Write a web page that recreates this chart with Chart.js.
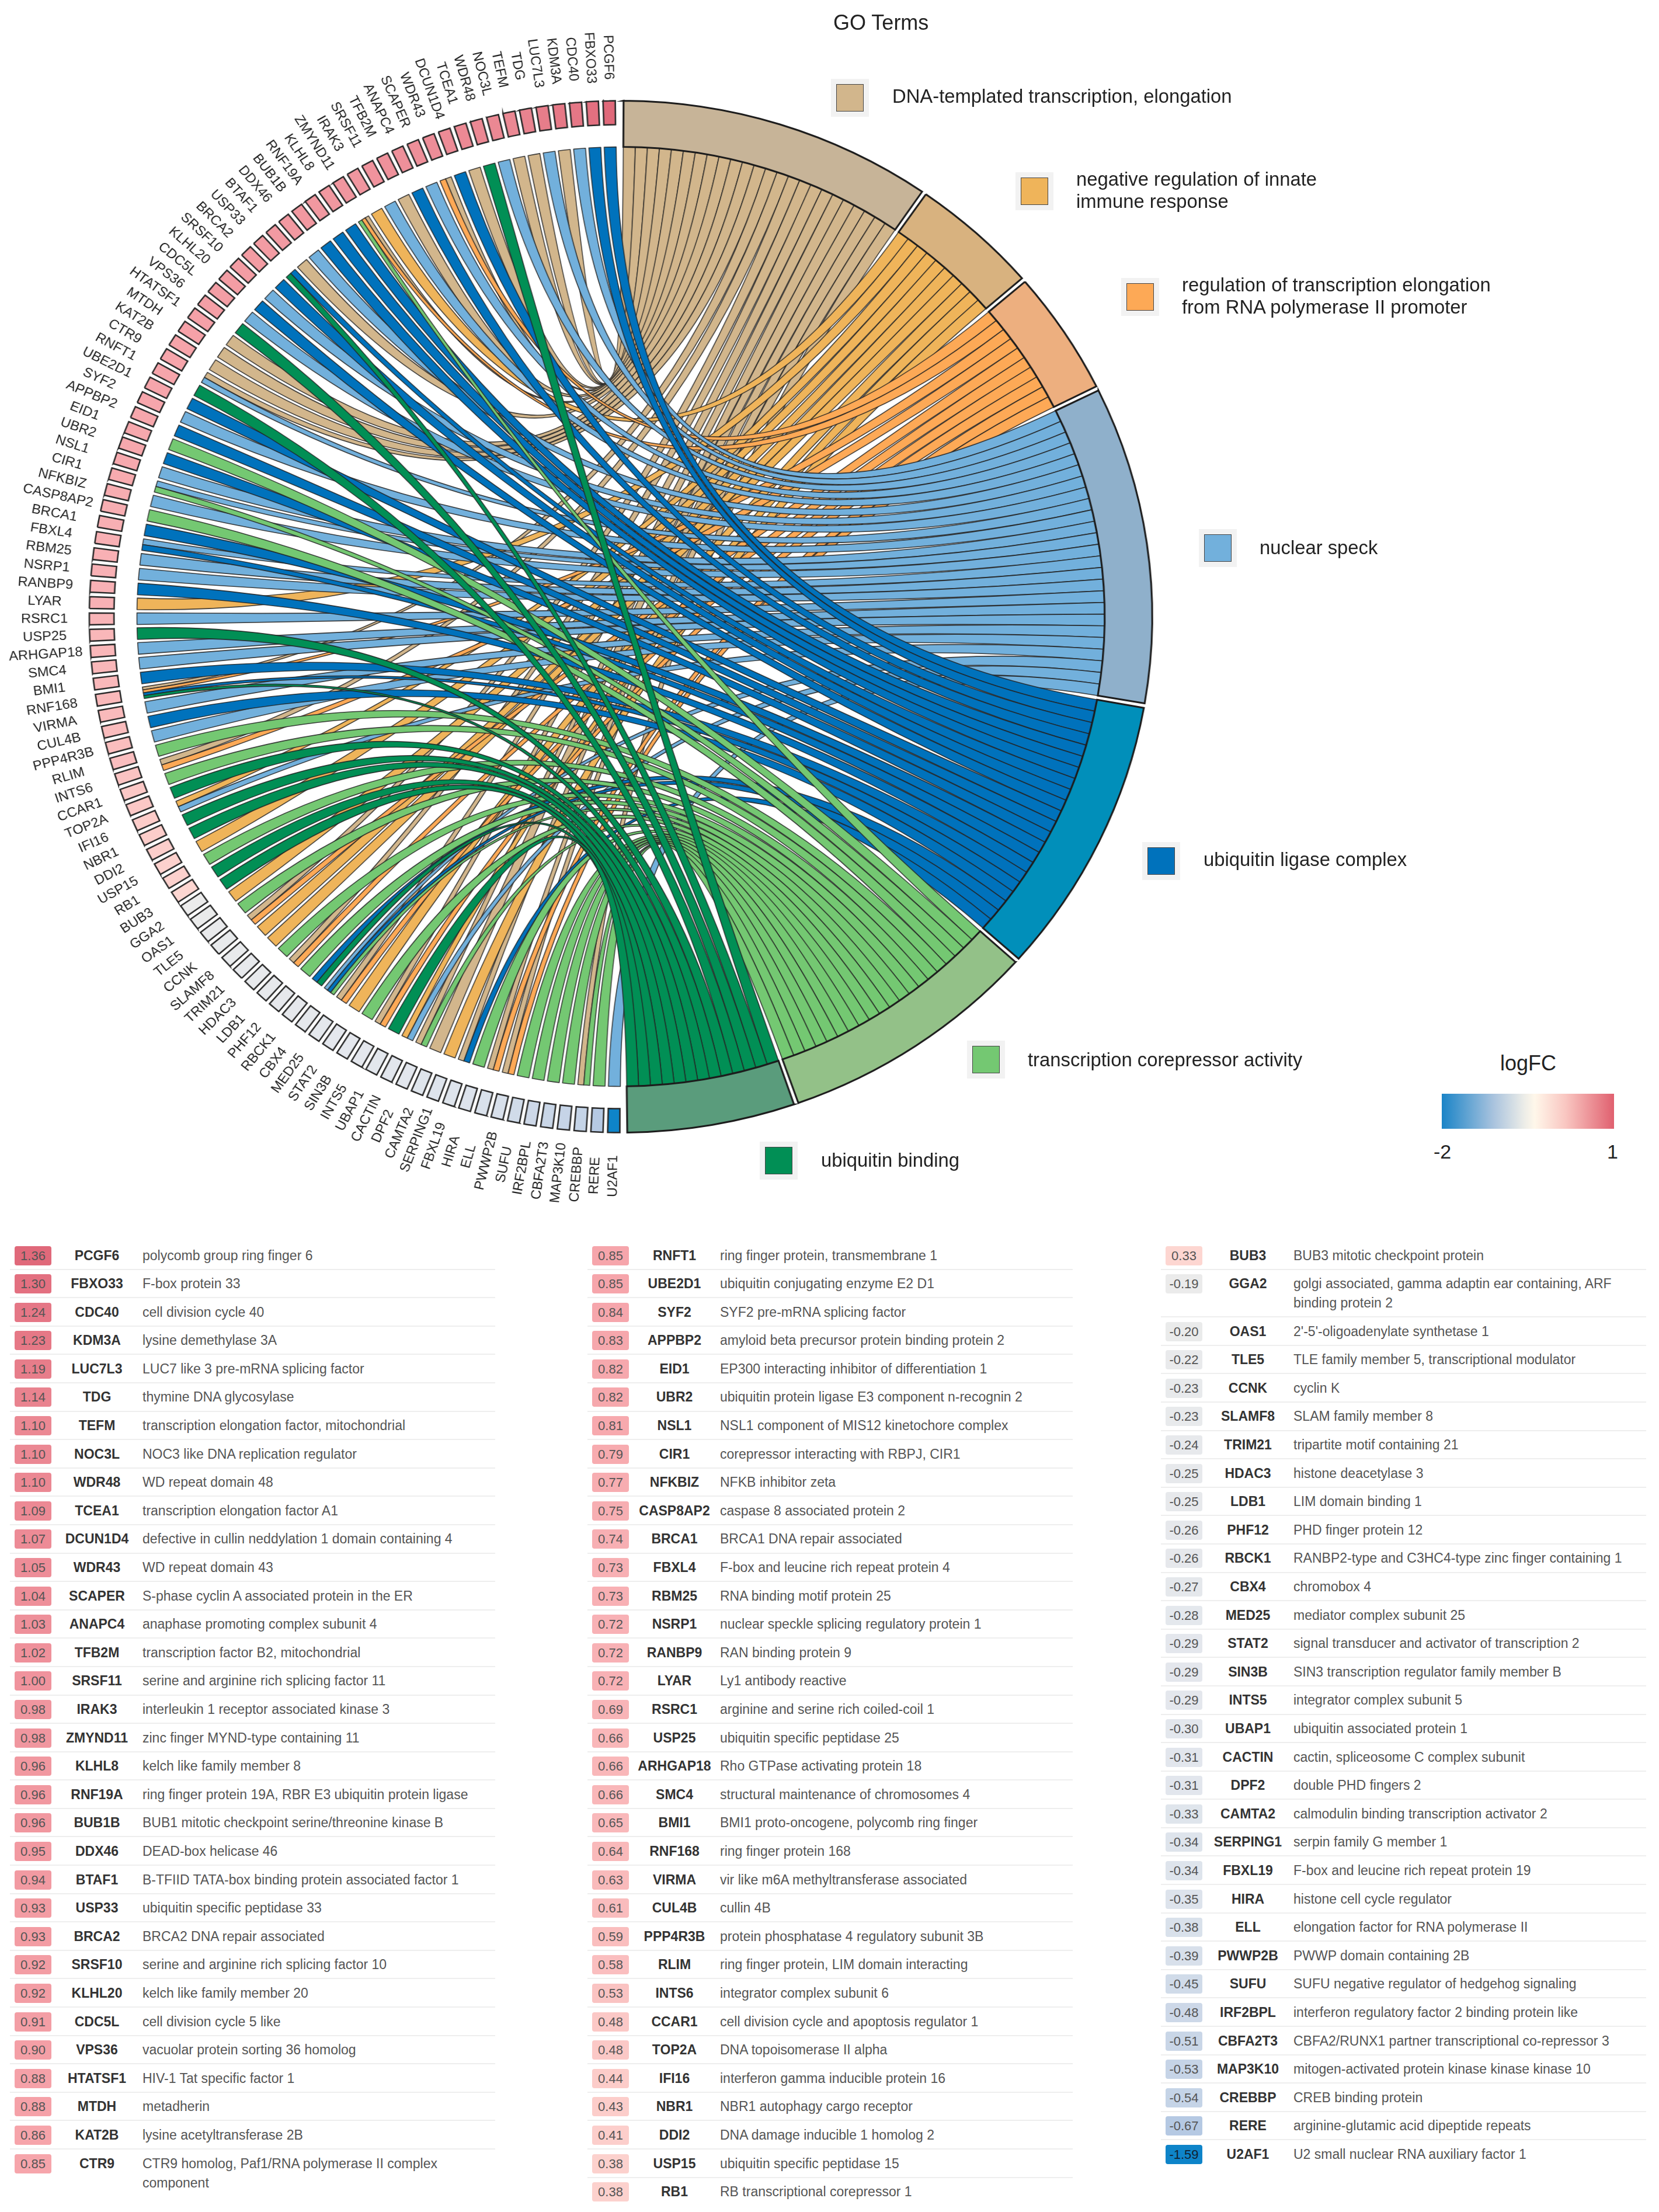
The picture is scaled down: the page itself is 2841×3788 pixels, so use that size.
<!DOCTYPE html>
<html>
<head>
<meta charset="utf-8">
<title>GO chord</title>
<script src="https://cdn.jsdelivr.net/npm/chart.js@4/dist/chart.umd.min.js"></script>
<style>
html, body { margin: 0; padding: 0; background: #fff; }
body { position: relative; width: 2841px; height: 3788px; overflow: hidden; font-family: "Liberation Sans", Arial, sans-serif; }
#chord { position: absolute; left: 0; top: 0; transform-origin: 0 0; transform: scaleX(1.0301); }
.abs { position: absolute; white-space: nowrap; }
.legText { font-size: 32.8px; line-height: 38px; color: #222; transform: translateY(-50%); }
.swatchBg { position: absolute; width: 65px; height: 65px; background: #f2f2f2; }
.swatch { position: absolute; left: 9px; top: 9px; width: 45px; height: 45px; border: 1.5px solid #444; }
.col { position: absolute; top: 2126px; width: 831px; }
.row { position: relative; display: flex; box-sizing: border-box; padding: 7.5px 0 6.1px 8px; border-bottom: 2px solid #eee; font-size: 23px; line-height: 33px; }
.row.last { border-bottom: 0; }
.badge { width: 63px; height: 33px; border-radius: 4px; text-align: center; color: #555; flex: none; font-size: 22px; }
.name { width: 156px; flex: none; text-align: center; font-weight: bold; color: #333; }
.desc { flex: 1; color: #555; white-space: pre-line; }
</style>
</head>
<body>
<canvas id="chord" width="2064" height="2112"></canvas>
<div id="overlay"></div>
<script>
const termNames = [
    'DNA-templated transcription, elongation',
    'negative regulation of innate\nimmune response',
    'regulation of transcription elongation\nfrom RNA polymerase II promoter',
    'nuclear speck',
    'ubiquitin ligase complex',
    'transcription corepressor activity',
    'ubiquitin binding'
];
const termKeys = ['D', 'N', 'R', 'S', 'L', 'C', 'B'];
const ribbonColors = ['#D2B68C', '#EFB45A', '#FDA956', '#72B0DC', '#0072BC', '#74C872', '#018F55'];
const ringColors = ['#C7B498', '#D8B27F', '#EDAF7F', '#8FB0CB', '#018FBA', '#93C188', '#5A9C7C'];

const genes = ['PCGF6', 'FBXO33', 'CDC40', 'KDM3A', 'LUC7L3', 'TDG', 'TEFM', 'NOC3L', 'WDR48', 'TCEA1', 'DCUN1D4', 'WDR43', 'SCAPER', 'ANAPC4', 'TFB2M', 'SRSF11', 'IRAK3', 'ZMYND11', 'KLHL8', 'RNF19A', 'BUB1B', 'DDX46', 'BTAF1', 'USP33', 'BRCA2', 'SRSF10', 'KLHL20', 'CDC5L', 'VPS36', 'HTATSF1', 'MTDH', 'KAT2B', 'CTR9',
    'RNFT1', 'UBE2D1', 'SYF2', 'APPBP2', 'EID1', 'UBR2', 'NSL1', 'CIR1', 'NFKBIZ', 'CASP8AP2', 'BRCA1', 'FBXL4', 'RBM25', 'NSRP1', 'RANBP9', 'LYAR', 'RSRC1', 'USP25', 'ARHGAP18', 'SMC4', 'BMI1', 'RNF168', 'VIRMA', 'CUL4B', 'PPP4R3B', 'RLIM', 'INTS6', 'CCAR1', 'TOP2A', 'IFI16', 'NBR1', 'DDI2', 'USP15', 'RB1',
    'BUB3', 'GGA2', 'OAS1', 'TLE5', 'CCNK', 'SLAMF8', 'TRIM21', 'HDAC3', 'LDB1', 'PHF12', 'RBCK1', 'CBX4', 'MED25', 'STAT2', 'SIN3B', 'INTS5', 'UBAP1', 'CACTIN', 'DPF2', 'CAMTA2', 'SERPING1', 'FBXL19', 'HIRA', 'ELL', 'PWWP2B', 'SUFU', 'IRF2BPL', 'CBFA2T3', 'MAP3K10', 'CREBBP', 'RERE', 'U2AF1'];

const logFC = [1.36, 1.30, 1.24, 1.23, 1.19, 1.14, 1.10, 1.10, 1.10, 1.09, 1.07, 1.05, 1.04, 1.03, 1.02, 1.00, 0.98, 0.98, 0.96, 0.96, 0.96, 0.95, 0.94, 0.93, 0.93, 0.92, 0.92, 0.91, 0.90, 0.88, 0.88, 0.86, 0.85,
    0.85, 0.85, 0.84, 0.83, 0.82, 0.82, 0.81, 0.79, 0.77, 0.75, 0.74, 0.73, 0.73, 0.72, 0.72, 0.72, 0.69, 0.66, 0.66, 0.66, 0.65, 0.64, 0.63, 0.61, 0.59, 0.58, 0.53, 0.48, 0.48, 0.44, 0.43, 0.41, 0.38, 0.38,
    0.33, -0.19, -0.20, -0.22, -0.23, -0.23, -0.24, -0.25, -0.25, -0.26, -0.26, -0.27, -0.28, -0.29, -0.29, -0.29, -0.30, -0.31, -0.31, -0.33, -0.34, -0.34, -0.35, -0.38, -0.39, -0.45, -0.48, -0.51, -0.53, -0.54, -0.67, -1.59];

// which GO terms each gene belongs to, same order as genes
const geneTerms = ['L', 'L', 'S', 'D', 'S', 'D', 'D', 'S', 'B', 'D', 'L', 'DR', 'S', 'L', 'D', 'S', 'N', 'DRC', 'L', 'L', 'L', 'S', 'D', 'LB', 'L', 'S', 'L', 'S', 'B', 'D', 'D', 'D', 'DS',
    'B', 'L', 'S', 'L', 'C', 'L', 'S', 'SC', 'S', 'C', 'L', 'SL', 'S', 'S', 'L', 'N', 'S', 'B', 'S', 'S', 'L', 'DRLB', 'S', 'L', 'S', 'C', 'DR', 'C', 'B', 'NS', 'B', 'B', 'N', 'C',
    'B', 'B', 'N', 'C', 'DR', 'N', 'N', 'C', 'DR', 'C', 'LB', 'SLC', 'DR', 'N', 'C', 'DR', 'B', 'NS', 'DC', 'D', 'N', 'DL', 'C', 'DR', 'DR', 'C', 'C', 'C', 'C', 'DC', 'C', 'S'];

const descriptions = ['polycomb group ring finger 6', 'F-box protein 33', 'cell division cycle 40', 'lysine demethylase 3A', 'LUC7 like 3 pre-mRNA splicing factor', 'thymine DNA glycosylase', 'transcription elongation factor, mitochondrial', 'NOC3 like DNA replication regulator', 'WD repeat domain 48', 'transcription elongation factor A1', 'defective in cullin neddylation 1 domain containing 4', 'WD repeat domain 43', 'S-phase cyclin A associated protein in the ER', 'anaphase promoting complex subunit 4', 'transcription factor B2, mitochondrial', 'serine and arginine rich splicing factor 11', 'interleukin 1 receptor associated kinase 3', 'zinc finger MYND-type containing 11', 'kelch like family member 8', 'ring finger protein 19A, RBR E3 ubiquitin protein ligase', 'BUB1 mitotic checkpoint serine/threonine kinase B', 'DEAD-box helicase 46', 'B-TFIID TATA-box binding protein associated factor 1', 'ubiquitin specific peptidase 33', 'BRCA2 DNA repair associated', 'serine and arginine rich splicing factor 10', 'kelch like family member 20', 'cell division cycle 5 like', 'vacuolar protein sorting 36 homolog', 'HIV-1 Tat specific factor 1', 'metadherin', 'lysine acetyltransferase 2B', 'CTR9 homolog, Paf1/RNA polymerase II complex\ncomponent',
    'ring finger protein, transmembrane 1', 'ubiquitin conjugating enzyme E2 D1', 'SYF2 pre-mRNA splicing factor', 'amyloid beta precursor protein binding protein 2', 'EP300 interacting inhibitor of differentiation 1', 'ubiquitin protein ligase E3 component n-recognin 2', 'NSL1 component of MIS12 kinetochore complex', 'corepressor interacting with RBPJ, CIR1', 'NFKB inhibitor zeta', 'caspase 8 associated protein 2', 'BRCA1 DNA repair associated', 'F-box and leucine rich repeat protein 4', 'RNA binding motif protein 25', 'nuclear speckle splicing regulatory protein 1', 'RAN binding protein 9', 'Ly1 antibody reactive', 'arginine and serine rich coiled-coil 1', 'ubiquitin specific peptidase 25', 'Rho GTPase activating protein 18', 'structural maintenance of chromosomes 4', 'BMI1 proto-oncogene, polycomb ring finger', 'ring finger protein 168', 'vir like m6A methyltransferase associated', 'cullin 4B', 'protein phosphatase 4 regulatory subunit 3B', 'ring finger protein, LIM domain interacting', 'integrator complex subunit 6', 'cell division cycle and apoptosis regulator 1', 'DNA topoisomerase II alpha', 'interferon gamma inducible protein 16', 'NBR1 autophagy cargo receptor', 'DNA damage inducible 1 homolog 2', 'ubiquitin specific peptidase 15', 'RB transcriptional corepressor 1',
    'BUB3 mitotic checkpoint protein', 'golgi associated, gamma adaptin ear containing, ARF\nbinding protein 2', "2'-5'-oligoadenylate synthetase 1", 'TLE family member 5, transcriptional modulator', 'cyclin K', 'SLAM family member 8', 'tripartite motif containing 21', 'histone deacetylase 3', 'LIM domain binding 1', 'PHD finger protein 12', 'RANBP2-type and C3HC4-type zinc finger containing 1', 'chromobox 4', 'mediator complex subunit 25', 'signal transducer and activator of transcription 2', 'SIN3 transcription regulator family member B', 'integrator complex subunit 5', 'ubiquitin associated protein 1', 'cactin, spliceosome C complex subunit', 'double PHD fingers 2', 'calmodulin binding transcription activator 2', 'serpin family G member 1', 'F-box and leucine rich repeat protein 19', 'histone cell cycle regulator', 'elongation factor for RNA polymerase II', 'PWWP domain containing 2B', 'SUFU negative regulator of hedgehog signaling', 'interferon regulatory factor 2 binding protein like', 'CBFA2/RUNX1 partner transcriptional co-repressor 3', 'mitogen-activated protein kinase kinase kinase 10', 'CREB binding protein', 'arginine-glutamic acid dipeptide repeats', 'U2 small nuclear RNA auxiliary factor 1'];

const colorValues = [-1.59, -0.67, -0.3, -0.19, 0.33, 0.85, 1.36];
const colorStops = ['#0E84C9', '#B5C9E3', '#E3E7ED', '#EBEBEB', '#FDD6D1', '#F6A5AB', '#E0697A'];

// same slots on the doughnut, just a bit of air between neighbours
const geneRotation = 179.85, geneCircumference = 179.8;
const termRotation = 0.05, termCircumference = 179.5;
const geneGap = 0.25 * Math.PI / 180, termGap = 0.25 * Math.PI / 180, ribbonGap = 0.2 * Math.PI / 180;
const geneInner = 0.9536, ribbonRadius = 0.9105, labelRadius = 1.0845;

function hexRgb(h) {
    return [1, 3, 5].map(i => parseInt(h.substr(i, 2), 16));
}
function fcColor(v) {
    let i = 0;
    while (i < colorValues.length - 2 && v > colorValues[i + 1]) i++;
    const t = (v - colorValues[i]) / (colorValues[i + 1] - colorValues[i]);
    const a = hexRgb(colorStops[i]), b = hexRgb(colorStops[i + 1]);
    return 'rgb(' + a.map((c, k) => Math.round(c + (b[k] - c) * t)).join(',') + ')';
}

const termCounts = termKeys.map(k => geneTerms.filter(g => g.includes(k)).length);
const genesClockwise = genes.slice().reverse();

function setArc(el, start, end, inner, outer) {
    el.startAngle = start;
    el.endAngle = end;
    el.circumference = end - start;
    el.innerRadius = inner;
    el.outerRadius = outer;
}

const chordPlugin = {
    id: 'chord',
    afterDatasetsUpdate(chart) {
        const R = chart.getDatasetMeta(0).controller.outerRadius;
        chart.getDatasetMeta(0).data.forEach(el => {
            setArc(el, el.startAngle + termGap, el.endAngle - termGap, R * ribbonRadius, R);
        });
        chart.getDatasetMeta(1).data.forEach(el => {
            setArc(el, el.startAngle + geneGap, el.endAngle - geneGap, R * geneInner, R);
        });
    },
    beforeDatasetsDraw(chart) {
        const ctx = chart.ctx;
        const termArcs = chart.getDatasetMeta(0).data;
        const geneArcs = chart.getDatasetMeta(1).data;
        const R = termArcs[0].outerRadius;
        const r = R * ribbonRadius;
        const cx = termArcs[0].x, cy = termArcs[0].y;

        ctx.save();
        ctx.lineWidth = 1.6;
        ctx.strokeStyle = 'rgba(35,35,35,0.85)';
        ctx.lineJoin = 'round';
        termKeys.forEach((key, ti) => {
            const arc = termArcs[ti];
            const step = (arc.endAngle - arc.startAngle) / termCounts[ti];
            let slot = 0;
            genes.forEach((g, gi) => {
                const parts = geneTerms[gi];
                const pos = parts.indexOf(key);
                if (pos < 0) return;
                const gArc = geneArcs[genes.length - 1 - gi];
                const width = (gArc.endAngle - gArc.startAngle + 2 * geneGap - 2 * ribbonGap) / parts.length;
                const a2 = gArc.endAngle + geneGap - ribbonGap - pos * width;
                const a1 = a2 - width;
                const t1 = arc.startAngle + slot * step;
                const t2 = t1 + step;
                slot++;
                ctx.beginPath();
                ctx.arc(cx, cy, r, a1, a2);
                ctx.quadraticCurveTo(cx, cy, cx + r * Math.cos(t1), cy + r * Math.sin(t1));
                ctx.arc(cx, cy, r, t1, t2);
                ctx.quadraticCurveTo(cx, cy, cx + r * Math.cos(a1), cy + r * Math.sin(a1));
                ctx.closePath();
                ctx.fillStyle = ribbonColors[ti];
                ctx.fill();
                ctx.stroke();
            });
        });
        ctx.restore();
    },
    afterDatasetsDraw(chart) {
        const ctx = chart.ctx;
        const geneArcs = chart.getDatasetMeta(1).data;
        ctx.save();
        ctx.font = '23px "Liberation Sans", Arial, sans-serif';
        ctx.fillStyle = '#222';
        ctx.textAlign = 'center';
        ctx.textBaseline = 'middle';
        geneArcs.forEach((el, i) => {
            const a = (el.startAngle + el.endAngle) / 2;
            const rr = el.outerRadius * labelRadius;
            ctx.save();
            ctx.translate(el.x + rr * Math.cos(a), el.y + rr * Math.sin(a));
            ctx.rotate(a + Math.PI);
            ctx.fillText(genesClockwise[i], 0, 0);
            ctx.restore();
        });
        ctx.restore();
    }
};

new Chart(document.getElementById('chord'), {
    type: 'doughnut',
    data: {
        labels: genesClockwise,
        datasets: [{
            label: 'GO terms',
            data: termCounts,
            rotation: termRotation,
            circumference: termCircumference,
            backgroundColor: ringColors,
            borderColor: '#1c1c1c',
            borderWidth: 3,
            borderJoinStyle: 'miter'
        }, {
            label: 'genes',
            data: genes.map(() => 1),
            rotation: geneRotation,
            circumference: geneCircumference,
            backgroundColor: genesClockwise.map(g => fcColor(logFC[genes.indexOf(g)])),
            borderColor: '#2a2a2a',
            borderWidth: 2.5,
            borderJoinStyle: 'miter'
        }]
    },
    options: {
        responsive: false,
        animation: false,
        events: [],
        layout: { padding: { left: 127, right: 127, top: 171, bottom: 171 } },
        plugins: { legend: { display: false }, tooltip: { enabled: false } }
    },
    plugins: [chordPlugin]
});

// legend and table are plain html
const overlay = document.getElementById('overlay');
function add(cls, css, text) {
    const d = document.createElement('div');
    d.className = cls;
    d.style.cssText = css;
    if (text !== undefined) d.textContent = text;
    overlay.appendChild(d);
    return d;
}
add('abs', 'left:1427px;top:18px;font-size:36px;line-height:42px;color:#222', 'GO Terms');

const legendSpots = [[1423, 135, 1528, 165], [1739, 295, 1843, 307], [1920, 476, 2024, 488], [2053, 906, 2157, 938], [1956, 1442, 2061, 1472], [1656, 1782, 1760, 1815], [1301, 1955, 1406, 1987]];
termNames.forEach((name, i) => {
    const s = legendSpots[i];
    const bg = add('swatchBg', 'left:' + s[0] + 'px;top:' + s[1] + 'px');
    const sw = document.createElement('div');
    sw.className = 'swatch';
    sw.style.background = ribbonColors[i];
    bg.appendChild(sw);
    const lines = name.split('\n');
    lines.forEach((line, k) => {
        add('abs legText', 'left:' + s[2] + 'px;top:' + (s[3] + k * 38) + 'px', line);
    });
});

add('abs', 'left:2569px;top:1800px;font-size:36px;line-height:42px;color:#222', 'logFC');
add('abs', 'left:2469px;top:1873px;width:295px;height:60px;background:linear-gradient(to right,#1A84C7 0%,#A9C3DE 30%,#EDEDE8 48%,#FFF7EA 54%,#F9C6C1 72%,#E0606F 100%)');
add('abs', 'left:2455px;top:1952px;font-size:34px;line-height:40px;color:#222', '-2');
add('abs', 'left:2752px;top:1952px;font-size:34px;line-height:40px;color:#222', '1');

const colStarts = [0, 33, 67];
const colLefts = [17, 1006, 1988];
colStarts.forEach((start, c) => {
    const end = c < 2 ? colStarts[c + 1] : genes.length;
    const col = add('col', 'left:' + colLefts[c] + 'px');
    for (let i = start; i < end; i++) {
        const row = document.createElement('div');
        row.className = 'row' + (i === end - 1 ? ' last' : '');
        const cells = [['badge', logFC[i].toFixed(2)], ['name', genes[i]], ['desc', descriptions[i]]];
        cells.forEach(cell => {
            const d = document.createElement('div');
            d.className = cell[0];
            d.textContent = cell[1];
            if (cell[0] === 'badge') {
                d.style.background = fcColor(logFC[i]);
                if (logFC[i] < -1) d.style.color = '#123';
            }
            row.appendChild(d);
        });
        col.appendChild(row);
    }
});
</script>
</body>
</html>
